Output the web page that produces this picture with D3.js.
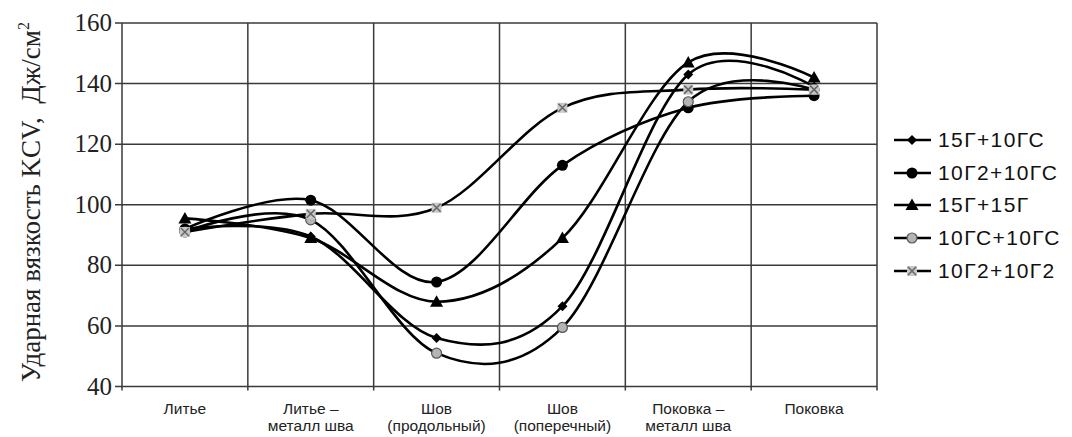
<!DOCTYPE html>
<html>
<head>
<meta charset="utf-8">
<script src="https://cdn.jsdelivr.net/npm/d3@7"></script>
<style>
  body { margin: 0; background: #fff; }
  svg { display: block; }
</style>
</head>
<body>
<svg id="chart" width="1072" height="437"></svg>
<script>
const categories = ['Литье', 'Литье – металл шва', 'Шов (продольный)', 'Шов (поперечный)', 'Поковка – металл шва', 'Поковка']
const categoryLines = [['Литье'], ['Литье –', 'металл шва'], ['Шов', '(продольный)'], ['Шов', '(поперечный)'], ['Поковка –', 'металл шва'], ['Поковка']]
const seriesNames = ['15Г+10ГС', '10Г2+10ГС', '15Г+15Г', '10ГС+10ГС', '10Г2+10Г2']
const s15G10GS = [92, 89.5, 56, 66.5, 143, 139]
const s10G210GS = [92, 101.5, 74.5, 113, 132, 136]
const s15G15G = [95.5, 89, 68, 89, 147, 142]
const s10GS10GS = [91, 95, 51, 59.5, 134, 138]
const s10G210G2 = [91, 97, 99, 132, 138, 138]
const yTicks = [40, 60, 80, 100, 120, 140, 160]

const series = [
  { name: seriesNames[0], values: s15G10GS, marker: 'diamondSmall' },
  { name: seriesNames[1], values: s10G210GS, marker: 'dot' },
  { name: seriesNames[2], values: s15G15G, marker: 'triangle' },
  { name: seriesNames[3], values: s10GS10GS, marker: 'greyCircle' },
  { name: seriesNames[4], values: s10G210G2, marker: 'cross' }
]

const svg = d3.select('#chart')
const plot = { left: 122, right: 877, top: 23, bottom: 386.5 }

const xBand = d3.scaleBand().domain(categories).range([plot.left, plot.right])
const xScale = (c) => xBand(c) + xBand.bandwidth() / 2
const yScale = d3.scaleLinear().domain([40, 160]).range([plot.bottom, plot.top])

const gridColor = '#3a3a3a'

// horizontal gridlines
svg.append('g')
  .selectAll('line')
  .data(yTicks)
  .join('line')
  .attr('x1', plot.left - 7)
  .attr('x2', plot.right)
  .attr('y1', (d) => yScale(d))
  .attr('y2', (d) => yScale(d))
  .attr('stroke', gridColor)
  .attr('stroke-width', 1.5)

// vertical gridlines between categories
const bounds = categories.map((c) => xBand(c)).concat([plot.right])
svg.append('g')
  .selectAll('line')
  .data(bounds)
  .join('line')
  .attr('x1', (d) => d)
  .attr('x2', (d) => d)
  .attr('y1', plot.top)
  .attr('y2', plot.bottom + 4)
  .attr('stroke', gridColor)
  .attr('stroke-width', 1.5)

// y tick labels
svg.append('g')
  .selectAll('text')
  .data(yTicks)
  .join('text')
  .attr('x', 112)
  .attr('y', (d) => yScale(d) + 8)
  .attr('text-anchor', 'end')
  .attr('font-family', '"Liberation Serif", "DejaVu Serif", serif')
  .attr('font-size', 25)
  .attr('fill', '#222')
  .text((d) => d)

// y title
const yTitle = svg.append('text')
  .attr('transform', 'translate(40,' + 202 + ') rotate(-90)')
  .attr('text-anchor', 'middle')
  .attr('font-family', '"Liberation Serif", "DejaVu Serif", serif')
  .attr('font-size', 27)
  .attr('fill', '#222')
yTitle.append('tspan').text('Ударная вязкость KCV,\u00a0 Дж/см')
yTitle.append('tspan').attr('font-size', 16).attr('dy', -11).text('2')

// x labels
const xLab = svg.append('g')
  .selectAll('text')
  .data(categories)
  .join('text')
  .attr('x', (d) => xScale(d))
  .attr('y', 414)
  .attr('text-anchor', 'middle')
  .attr('font-family', '"Liberation Sans Narrow", "Liberation Sans", Arial, sans-serif')
  .attr('font-stretch', 'condensed')
  .attr('font-size', 15.5)
  .attr('fill', '#222')
xLab.each(function (d, i) {
  d3.select(this).selectAll('tspan')
    .data(categoryLines[i])
    .join('tspan')
    .attr('x', xScale(d))
    .attr('dy', (t, j) => j === 0 ? 0 : 17)
    .text((t) => t)
})

// curves
const line = d3.line()
  .x((d, i) => xScale(categories[i]))
  .y((d) => yScale(d))
  .curve(d3.curveCatmullRom.alpha(0))

svg.append('g')
  .selectAll('path')
  .data(series)
  .join('path')
  .attr('d', (d) => line(d.values))
  .attr('fill', 'none')
  .attr('stroke', '#000')
  .attr('stroke-width', 2.6)

function drawMarker (g, type, x, y) {
  if (type === 'diamondSmall') {
    g.append('path').attr('d', `M${x},${y - 5}L${x + 5},${y}L${x},${y + 5}L${x - 5},${y}Z`).attr('fill', '#000')
  } else if (type === 'dot') {
    g.append('circle').attr('cx', x).attr('cy', y).attr('r', 5.5).attr('fill', '#000')
  } else if (type === 'triangle') {
    g.append('path').attr('d', `M${x},${y - 6.5}L${x + 6.5},${y + 5}L${x - 6.5},${y + 5}Z`).attr('fill', '#000')
  } else if (type === 'greyCircle') {
    g.append('circle').attr('cx', x).attr('cy', y).attr('r', 5).attr('fill', '#b4b4b4').attr('stroke', '#555').attr('stroke-width', 1.2)
  } else if (type === 'cross') {
    g.append('rect').attr('x', x - 5).attr('y', y - 5).attr('width', 10).attr('height', 10).attr('fill', '#c8c8c8')
    g.append('path').attr('d', `M${x - 4},${y - 4}L${x + 4},${y + 4}M${x + 4},${y - 4}L${x - 4},${y + 4}`)
      .attr('stroke', '#666').attr('stroke-width', 1.5)
  }
}

const markers = svg.append('g')
series.forEach((s) => {
  s.values.forEach((v, i) => drawMarker(markers, s.marker, xScale(categories[i]), yScale(v)))
})

// legend
const legendY = [140, 173, 205, 238, 271]
const legend = svg.append('g')
series.forEach((s, i) => {
  const y = legendY[i]
  legend.append('line')
    .attr('x1', 894).attr('x2', 931)
    .attr('y1', y).attr('y2', y)
    .attr('stroke', '#000').attr('stroke-width', 2.6)
  drawMarker(legend, s.marker, 912, y)
  legend.append('text')
    .attr('x', 938)
    .attr('y', y + 7)
    .attr('font-family', '"Liberation Sans", Arial, sans-serif')
    .attr('font-size', 21)
    .attr('letter-spacing', 1.4)
    .attr('fill', '#111')
    .text(s.name)
})
</script>
</body>
</html>
